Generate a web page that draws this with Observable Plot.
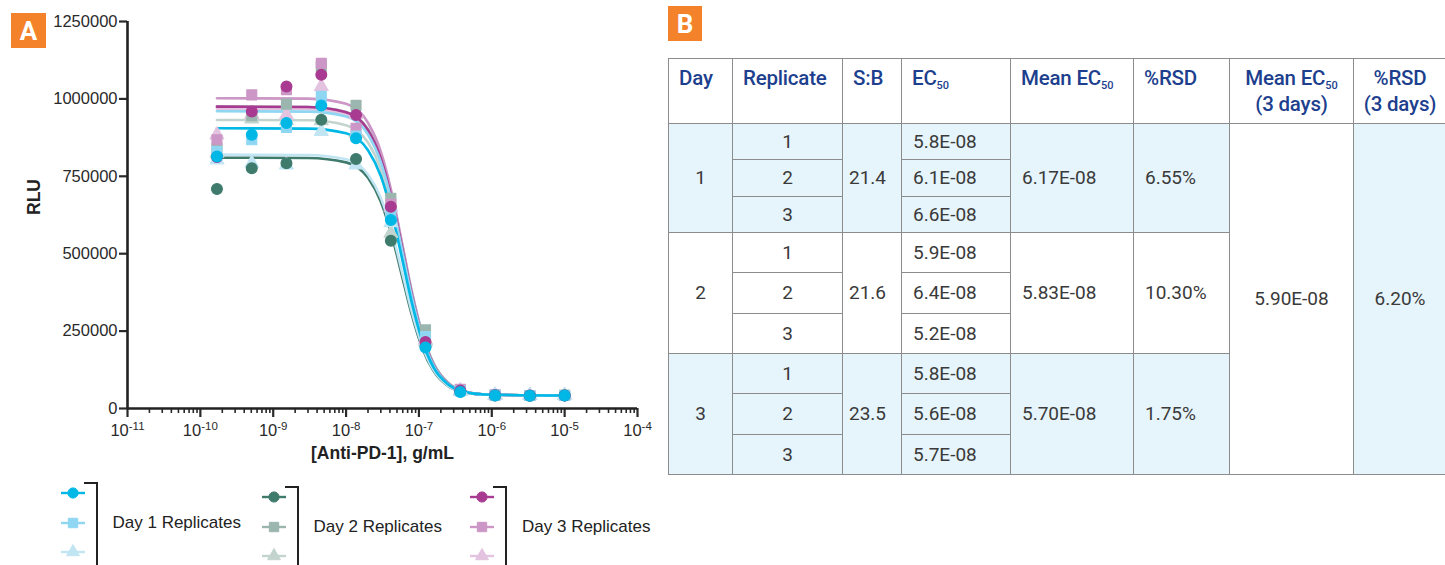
<!DOCTYPE html>
<html>
<head>
<meta charset="utf-8">
<script src="https://cdn.jsdelivr.net/npm/d3@7"></script>
<script src="https://cdn.jsdelivr.net/npm/@observablehq/plot@0.6"></script>
<style>
  html, body { margin: 0; padding: 0; background: #fff; }
  #page { position: relative; width: 1445px; height: 565px; overflow: hidden; background: #fff; }
  #chart { position: absolute; left: 0; top: 0; }
  .panel-tag { position: absolute; background: #f4822a; color: #fff; font-family: "Roboto", "Liberation Sans", sans-serif; font-weight: 700; font-size: 26px; display: flex; align-items: center; justify-content: center; }
  #tagA { left: 11px; top: 13px; width: 35px; height: 35px; }
  #tagB { left: 668px; top: 6px; width: 34px; height: 35px; }
  #legend { position: absolute; left: 0; top: 0; width: 700px; height: 565px; font-family: "Liberation Sans", Arial, sans-serif; }
  .lg { position: absolute; }
  .lg .sym { position: absolute; left: 0; width: 26px; height: 30px; }
  .lg .bracket { position: absolute; left: 24px; top: 4px; width: 12px; height: 92px; border-top: 2.5px solid #222; border-right: 2.5px solid #222; }
  .lg .txt { position: absolute; left: 53px; top: 34px; font-size: 17px; color: #222; white-space: nowrap; line-height: 22px; }
  #tbl { position: absolute; left: 668px; top: 58px; border-collapse: collapse; table-layout: fixed; width: 778px;
         font-family: Roboto, "Liberation Sans", sans-serif; }
  #tbl th { border: 1.5px solid #8c8c8c; vertical-align: top; text-align: left; color: #1d3f8e; font-weight: 500;
            font-size: 20.5px; line-height: 26px; padding: 6px 0 0 10px; height: 58px; box-sizing: border-box; letter-spacing: -0.2px; }
  #tbl th.c { text-align: center; padding-left: 0; }
  #tbl sub { font-size: 11px; vertical-align: -4px; line-height: 0; letter-spacing: 0; }
  #tbl td { border: 1.5px solid #8c8c8c; font-size: 19px; color: #3a3a3a; padding: 0 0 0 11px; box-sizing: border-box; white-space: nowrap; }
  #tbl td.c { text-align: center; padding-left: 0; }
  #tbl td.s { padding-left: 6px; }
  #tbl .blue { background: #e6f4fb; }
  #tbl .white { background: #fff; }
</style>
</head>
<body>
<div id="page">
  <div id="chart"></div>
  <div id="tagA" class="panel-tag">A</div>
  <div id="tagB" class="panel-tag">B</div>
  <div id="legend"></div>
  <table id="tbl"></table>
</div>
<script>
// ---------------- Panel A data ----------------
const conc = [1.69e-10, 5.08e-10, 1.52e-9, 4.57e-9, 1.37e-8, 4.12e-8, 1.23e-7, 3.70e-7, 1.11e-6, 3.33e-6, 1.0e-5];

const seriesNames = ["Day 1 Rep 1", "Day 1 Rep 2", "Day 1 Rep 3",
                     "Day 2 Rep 1", "Day 2 Rep 2", "Day 2 Rep 3",
                     "Day 3 Rep 1", "Day 3 Rep 2", "Day 3 Rep 3"];
const seriesColors = ["#00b8e6", "#8fd6f2", "#c2e5f4",
                      "#3f7b6c", "#9bb6ae", "#c3d4ce",
                      "#a83b91", "#cc97c6", "#e3c3df"];
const seriesSymbols = ["circle", "square", "triangle",
                       "circle", "square", "triangle",
                       "circle", "square", "triangle"];

const d1r1 = [814000, 884000, 922000, 979000, 873000, 609000, 197000, 53000, 42000, 41000, 42000];
const d1r2 = [830000, 868000, 908000, 1008000, 880000, 630000, 232000, 57000, 43000, 42000, 42000];
const d1r3 = [803000, 792000, 787000, 895000, 787000, 600000, 215000, 56000, 43000, 42000, 42000];
const d2r1 = [709000, 776000, 792000, 933000, 806000, 542000, 200000, 55000, 42000, 41000, 42000];
const d2r2 = [840000, 946000, 983000, 1105000, 979000, 679000, 254000, 60000, 44000, 42000, 43000];
const d2r3 = [825000, 935000, 930000, 930000, 889000, 566000, 220000, 56000, 43000, 42000, 42000];
const d3r1 = [812000, 959000, 1040000, 1078000, 948000, 652000, 215000, 58000, 43000, 42000, 42000];
const d3r2 = [868000, 1013000, 1030000, 1115000, 905000, 660000, 225000, 62000, 44000, 42000, 42000];
const d3r3 = [884000, 950000, 948000, 1040000, 950000, 650000, 220000, 58000, 43000, 42000, 42000];

// fitted curves (at these concentrations)
const curveConc = [1.69e-10, 3e-9, 1e-8, 2e-8, 3e-8, 4.5e-8, 6e-8, 8e-8, 1.1e-7, 1.6e-7, 2.5e-7, 4e-7, 8e-7, 1e-5];
const c1r1 = [905000, 904000, 889000, 834000, 751000, 606000, 474000, 341000, 222000, 131000, 78000, 55000, 45000, 42000];
const c1r2 = [960000, 959000, 943000, 885000, 796000, 641000, 501000, 361000, 234000, 137000, 80000, 56000, 45000, 42000];
const c1r3 = [820000, 819000, 805000, 756000, 681000, 550000, 431000, 312000, 205000, 123000, 74000, 54000, 45000, 42000];
const c2r1 = [810000, 809000, 795000, 745000, 668000, 536000, 418000, 302000, 198000, 120000, 73000, 54000, 45000, 42000];
const c2r2 = [975000, 974000, 958000, 902000, 814000, 660000, 520000, 377000, 247000, 145000, 84000, 58000, 45000, 42000];
const c2r3 = [932000, 931000, 915000, 859000, 773000, 623000, 487000, 351000, 228000, 134000, 79000, 56000, 45000, 42000];
const c3r1 = [975000, 974000, 957000, 899000, 808000, 651000, 509000, 366000, 237000, 139000, 81000, 56000, 45000, 42000];
const c3r2 = [1002000, 1001000, 984000, 923000, 830000, 669000, 522000, 375000, 243000, 141000, 82000, 57000, 45000, 42000];
const c3r3 = [968000, 967000, 950000, 892000, 802000, 647000, 505000, 363000, 236000, 138000, 80000, 56000, 45000, 42000];

const pointSeries = [d1r1, d1r2, d1r3, d2r1, d2r2, d2r3, d3r1, d3r2, d3r3];
const curveSeries = [c1r1, c1r2, c1r3, c2r1, c2r2, c2r3, c3r1, c3r2, c3r3];

const yTicks = [0, 250000, 500000, 750000, 1000000, 1250000];
const xDecades = [1e-11, 1e-10, 1e-9, 1e-8, 1e-7, 1e-6, 1e-5, 1e-4];
const xTickLabels = ["10^-11", "10^-10", "10^-9", "10^-8", "10^-7", "10^-6", "10^-5", "10^-4"];
const legendGroups = ["Day 1 Replicates", "Day 2 Replicates", "Day 3 Replicates"];

// ---------------- Panel B data ----------------
const tblHeaders = ["Day", "Replicate", "S:B", "EC<sub>50</sub>", "Mean EC<sub>50</sub>", "%RSD",
                    "Mean EC<sub>50</sub><br>(3 days)", "%RSD<br>(3 days)"];
const tblDays = ["1", "2", "3"];
const tblReplicates = ["1", "2", "3"];
const tblSB = ["21.4", "21.6", "23.5"];
const tblEC50 = [["5.8E-08", "6.1E-08", "6.6E-08"], ["5.9E-08", "6.4E-08", "5.2E-08"], ["5.8E-08", "5.6E-08", "5.7E-08"]];
const tblMeanEC50 = ["6.17E-08", "5.83E-08", "5.70E-08"];
const tblRSD = ["6.55%", "10.30%", "1.75%"];
const tblMean3 = "5.90E-08";
const tblRSD3 = "6.20%";

// ---------------- build chart ----------------
const labelMap = new Map(xDecades.map((d, i) => [d, xTickLabels[i]]));
const minorTicks = d3.scaleLog().domain([1e-11, 1e-4]).ticks().filter(t => !xDecades.some(d => Math.abs(t / d - 1) < 1e-6));
const symR = {circle: 5.4, square: 5.6, triangle: 5.1};

const drawOrder = [4, 5, 8, 7, 3, 6, 2, 1, 0];
const lineMarks = drawOrder.map(i => Plot.line(
  curveConc.map((c, j) => ({conc: c, value: curveSeries[i][j]})),
  {x: "conc", y: "value", stroke: seriesColors[i], strokeWidth: 2.6, curve: "monotone-x"}
));
const dotOrder = [5, 8, 2, 4, 7, 1, 3, 6, 0];
const dotMarks = dotOrder.map(i => Plot.dot(
  conc.map((c, j) => ({conc: c, value: pointSeries[i][j]})),
  {x: "conc", y: "value", symbol: () => seriesSymbols[i], fill: seriesColors[i], stroke: seriesColors[i],
   strokeWidth: 1.2, strokeLinejoin: "round", r: symR[seriesSymbols[i]]}
));

const chart = Plot.plot({
  width: 660,
  height: 470,
  marginLeft: 127,
  marginRight: 23,
  marginTop: 21,
  marginBottom: 62,
  style: {fontFamily: "'Liberation Sans', Arial, sans-serif", fontSize: "16.5px", color: "#2a2a2a", background: "transparent", overflow: "visible"},
  x: {type: "log", domain: [1e-11, 1e-4]},
  y: {domain: [0, 1250000]},
  symbol: {domain: ["circle", "square", "triangle"], range: ["circle", "square", "triangle"]},
  marks: [
    Plot.axisY(yTicks, {tickSize: 8, tickPadding: 2, tickFormat: d => String(d), strokeWidth: 2.2, label: null}),
    Plot.axisX(minorTicks, {tickSize: 5, strokeWidth: 1.6, tickFormat: () => "", label: null}),
    Plot.axisX(xDecades, {tickSize: 9, tickPadding: 7, strokeWidth: 2.2, tickFormat: d => labelMap.get(d), label: null}),
    Plot.ruleX([1e-11], {stroke: "#222", strokeWidth: 2.6}),
    Plot.ruleY([0], {stroke: "#222", strokeWidth: 2.6}),
    ...lineMarks,
    ...dotMarks,
    Plot.text(["RLU"], {text: d => d, frameAnchor: "left", dx: -93, rotate: -90, fontWeight: "bold", fontSize: 17.5, fill: "#222"}),
    Plot.text(["[Anti-PD-1], g/mL"], {text: d => d, frameAnchor: "bottom", dy: 45, lineAnchor: "middle", fontWeight: "bold", fontSize: 17.5, fill: "#222"})
  ]
});
document.getElementById("chart").appendChild(chart);

// superscript exponents for the log tick labels
chart.querySelectorAll("text").forEach(t => {
  const m = (t.textContent || "").match(/^10\^(-?\d+)$/);
  if (!m) return;
  t.textContent = "";
  const base = document.createElementNS("http://www.w3.org/2000/svg", "tspan");
  base.textContent = "10";
  const sup = document.createElementNS("http://www.w3.org/2000/svg", "tspan");
  sup.textContent = m[1];
  sup.setAttribute("dy", "-0.5em");
  sup.setAttribute("font-size", "11.5px");
  t.appendChild(base);
  t.appendChild(sup);
});

// ---------------- legend ----------------
const legendPos = [[59.5, 478], [260.5, 482], [469, 482]];
const legend = document.getElementById("legend");
legendGroups.forEach((label, g) => {
  const div = document.createElement("div");
  div.className = "lg";
  div.style.left = legendPos[g][0] + "px";
  div.style.top = legendPos[g][1] + "px";
  for (let r = 0; r < 3; r++) {
    const i = g * 3 + r;
    const svg = d3.create("svg").attr("class", "sym").attr("width", 26).attr("height", 30).style("top", (r * 29.5) + "px");
    svg.append("line").attr("x1", 1).attr("x2", 25).attr("y1", 15).attr("y2", 15).attr("stroke", seriesColors[i]).attr("stroke-width", 2.4);
    const type = seriesSymbols[i] === "circle" ? d3.symbolCircle : seriesSymbols[i] === "square" ? d3.symbolSquare : d3.symbolTriangle;
    const rr = symR[seriesSymbols[i]] - 0.3;
    svg.append("path").attr("d", d3.symbol(type, rr * rr * Math.PI)()).attr("transform", "translate(13,15)")
      .attr("fill", seriesColors[i]).attr("stroke", seriesColors[i]).attr("stroke-width", 1).attr("stroke-linejoin", "round");
    div.appendChild(svg.node());
  }
  const br = document.createElement("div");
  br.className = "bracket";
  div.appendChild(br);
  const tx = document.createElement("div");
  tx.className = "txt";
  tx.textContent = label;
  div.appendChild(tx);
  legend.appendChild(div);
});

// ---------------- table ----------------
const tbl = document.getElementById("tbl");
const colW = [64, 110, 59, 109, 123, 96, 124, 93];
const cg = document.createElement("colgroup");
colW.forEach(w => { const c = document.createElement("col"); c.style.width = w + "px"; cg.appendChild(c); });
tbl.appendChild(cg);
const thead = document.createElement("thead");
const hr = document.createElement("tr");
hr.style.height = "65px";
tblHeaders.forEach((h, i) => {
  const th = document.createElement("th");
  th.innerHTML = h;
  if (i >= 6) th.className = "c";
  hr.appendChild(th);
});
thead.appendChild(hr);
tbl.appendChild(thead);
const tbody = document.createElement("tbody");
const rowH = [36.33, 40.33, 40.33];
tblDays.forEach((day, g) => {
  const bg = g === 1 ? "white" : "blue";
  tblReplicates.forEach((rep, r) => {
    const tr = document.createElement("tr");
    tr.style.height = rowH[g] + "px";
    const add = (text, cls, rs) => {
      const td = document.createElement("td");
      td.textContent = text;
      td.className = cls;
      if (rs) td.rowSpan = rs;
      tr.appendChild(td);
    };
    if (r === 0) add(day, "c " + bg, 3);
    add(rep, "c " + bg);
    if (r === 0) add(tblSB[g], "s " + bg, 3);
    add(tblEC50[g][r], bg);
    if (r === 0) { add(tblMeanEC50[g], bg, 3); add(tblRSD[g], bg, 3); }
    if (g === 0 && r === 0) { add(tblMean3, "c white", 9); add(tblRSD3, "c blue", 9); }
    tbody.appendChild(tr);
  });
});
tbl.appendChild(tbody);
</script>
</body>
</html>
